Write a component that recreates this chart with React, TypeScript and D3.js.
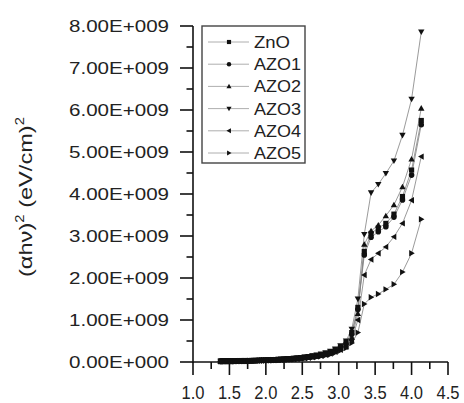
import React from "react";
import * as d3 from "d3";

// Photon energy (eV), from 300 nm to 900 nm in 10 nm steps
const energy = [
  4.133, 4.0, 3.875, 3.758, 3.647, 3.543, 3.444, 3.351, 3.263, 3.179,
  3.1, 3.024, 2.952, 2.884, 2.818, 2.756, 2.696, 2.638, 2.583, 2.531,
  2.48, 2.431, 2.385, 2.34, 2.296, 2.255, 2.214, 2.175, 2.138, 2.102,
  2.067, 2.033, 2.0, 1.968, 1.938, 1.908, 1.879, 1.851, 1.824, 1.797,
  1.771, 1.746, 1.722, 1.699, 1.676, 1.653, 1.632, 1.61, 1.59, 1.57,
  1.55, 1.531, 1.512, 1.494, 1.476, 1.459, 1.442, 1.425, 1.409, 1.393,
  1.378,
];

// (αhν)^2 in units of 1E+009
const zno = [
  5.75, 4.57, 3.94, 3.52, 3.3, 3.19, 3.06, 2.63, 1.3, 0.7,
  0.46, 0.36, 0.29, 0.24, 0.2, 0.175, 0.155, 0.14, 0.125, 0.112,
  0.1, 0.092, 0.085, 0.079, 0.073, 0.068, 0.064, 0.06, 0.056, 0.053,
  0.05, 0.047, 0.045, 0.043, 0.041, 0.039, 0.037, 0.035, 0.034, 0.033,
  0.031, 0.03, 0.029, 0.028, 0.027, 0.026, 0.025, 0.024, 0.023, 0.023,
  0.022, 0.021, 0.021, 0.02, 0.02, 0.019, 0.019, 0.018, 0.018, 0.017,
  0.017,
];
const azo1 = [
  5.65, 4.45, 3.86, 3.45, 3.22, 3.1, 2.97, 2.55, 1.25, 0.66,
  0.43, 0.34, 0.27, 0.22, 0.19, 0.165, 0.145, 0.13, 0.117, 0.105,
  0.095, 0.087, 0.08, 0.074, 0.069, 0.064, 0.06, 0.056, 0.053, 0.05,
  0.047, 0.045, 0.043, 0.041, 0.039, 0.037, 0.035, 0.034, 0.032, 0.031,
  0.03, 0.029, 0.028, 0.027, 0.026, 0.025, 0.024, 0.023, 0.022, 0.022,
  0.021, 0.02, 0.02, 0.019, 0.019, 0.018, 0.018, 0.017, 0.017, 0.016,
  0.016,
];
const azo2 = [
  6.04, 4.83, 4.17, 3.74, 3.48, 3.26, 3.12, 2.8, 1.15, 0.58,
  0.4, 0.32, 0.26, 0.21, 0.18, 0.16, 0.14, 0.125, 0.112, 0.1,
  0.091, 0.083, 0.077, 0.071, 0.066, 0.062, 0.058, 0.054, 0.051, 0.048,
  0.046, 0.043, 0.041, 0.039, 0.037, 0.036, 0.034, 0.033, 0.031, 0.03,
  0.029, 0.028, 0.027, 0.026, 0.025, 0.024, 0.023, 0.023, 0.022, 0.021,
  0.021, 0.02, 0.02, 0.019, 0.019, 0.018, 0.018, 0.017, 0.017, 0.016,
  0.016,
];
const azo3 = [
  7.86, 6.26, 5.4, 4.79, 4.49, 4.23, 4.03, 3.04, 1.5, 0.78,
  0.5, 0.39, 0.31, 0.26, 0.22, 0.19, 0.17, 0.15, 0.135, 0.12,
  0.11, 0.1, 0.092, 0.085, 0.079, 0.074, 0.069, 0.065, 0.061, 0.057,
  0.054, 0.051, 0.048, 0.046, 0.044, 0.042, 0.04, 0.038, 0.036, 0.035,
  0.033, 0.032, 0.031, 0.03, 0.029, 0.028, 0.027, 0.026, 0.025, 0.024,
  0.024, 0.023, 0.022, 0.022, 0.021, 0.021, 0.02, 0.02, 0.019, 0.019,
  0.018,
];
const azo4 = [
  4.89, 3.85, 3.3, 2.98, 2.74, 2.59, 2.44, 2.07, 1.0, 0.52,
  0.36, 0.29, 0.24, 0.2, 0.17, 0.15, 0.135, 0.12, 0.108, 0.097,
  0.088, 0.081, 0.075, 0.069, 0.064, 0.06, 0.056, 0.053, 0.05, 0.047,
  0.044, 0.042, 0.04, 0.038, 0.036, 0.034, 0.033, 0.031, 0.03, 0.029,
  0.028, 0.027, 0.026, 0.025, 0.024, 0.023, 0.022, 0.022, 0.021, 0.02,
  0.02, 0.019, 0.019, 0.018, 0.018, 0.017, 0.017, 0.016, 0.016, 0.015,
  0.015,
];
const azo5 = [
  3.4, 2.59, 2.14, 1.85, 1.73, 1.62, 1.54, 1.38, 0.7, 0.45,
  0.33, 0.27, 0.22, 0.18, 0.155, 0.135, 0.12, 0.107, 0.096, 0.087,
  0.079, 0.072, 0.067, 0.062, 0.058, 0.054, 0.051, 0.048, 0.045, 0.043,
  0.04, 0.038, 0.036, 0.035, 0.033, 0.032, 0.03, 0.029, 0.028, 0.027,
  0.026, 0.025, 0.024, 0.023, 0.022, 0.022, 0.021, 0.02, 0.02, 0.019,
  0.019, 0.018, 0.018, 0.017, 0.017, 0.016, 0.016, 0.015, 0.015, 0.015,
  0.014,
];

const seriesNames = ["ZnO", "AZO1", "AZO2", "AZO3", "AZO4", "AZO5"];
const seriesValues = [zno, azo1, azo2, azo3, azo4, azo5];
const seriesMarkers = ["square", "circle", "up", "down", "left", "right"];

const xTicks = [1.0, 1.5, 2.0, 2.5, 3.0, 3.5, 4.0, 4.5];
const xTickLabels = ["1.0", "1.5", "2.0", "2.5", "3.0", "3.5", "4.0", "4.5"];
const xMinor = [1.25, 1.75, 2.25, 2.75, 3.25, 3.75, 4.25];
const yTicks = [0, 1, 2, 3, 4, 5, 6, 7, 8];
const yTickLabels = [
  "0.00E+000", "1.00E+009", "2.00E+009", "3.00E+009", "4.00E+009",
  "5.00E+009", "6.00E+009", "7.00E+009", "8.00E+009",
];
const yMinor = [0.5, 1.5, 2.5, 3.5, 4.5, 5.5, 6.5, 7.5];

const FONT = "'Liberation Sans', Arial, Helvetica, sans-serif";

function Marker({ kind, x, y, k = 1 }: { kind: string; x: number; y: number; k?: number }) {
  const s = 2.6 * k;
  if (kind === "square")
    return <rect x={x - s} y={y - s} width={2 * s} height={2 * s} fill="#111" />;
  if (kind === "circle") return <circle cx={x} cy={y} r={2.8 * k} fill="#111" />;
  const t = 3.2 * k;
  let pts = "";
  if (kind === "up") pts = `${x},${y - t} ${x - t},${y + t * 0.75} ${x + t},${y + t * 0.75}`;
  if (kind === "down") pts = `${x},${y + t} ${x - t},${y - t * 0.75} ${x + t},${y - t * 0.75}`;
  if (kind === "left") pts = `${x - t},${y} ${x + t * 0.75},${y - t} ${x + t * 0.75},${y + t}`;
  if (kind === "right") pts = `${x + t},${y} ${x - t * 0.75},${y - t} ${x - t * 0.75},${y + t}`;
  return <polygon points={pts} fill="#111" />;
}

export default function App() {
  const x = d3.scaleLinear().domain([1.0, 4.5]).range([193, 448]);
  const y = d3.scaleLinear().domain([0, 8]).range([362, 26]);
  const line = d3
    .line<number>()
    .x((_, i) => x(energy[i]))
    .y((d) => y(d));

  const legX = 202;
  const legY = 26;
  const rowY0 = 42;
  const rowStep = 22.2;

  return (
    <svg
      width={464}
      height={403}
      style={{ position: "absolute", left: 0, top: 0, background: "#fff" }}
      fontFamily={FONT}
    >
      <rect x={0} y={0} width={464} height={403} fill="#fff" />

      {/* series lines */}
      {seriesValues.map((vals, si) => (
        <path key={"l" + si} d={line(vals) || ""} fill="none" stroke="#808080" strokeWidth={0.8} />
      ))}
      {/* markers */}
      {seriesValues.map((vals, si) =>
        vals.map((v, i) => (
          <Marker key={`m${si}-${i}`} kind={seriesMarkers[si]} x={x(energy[i])} y={y(v)} />
        ))
      )}

      {/* axes */}
      <line x1={x(1.0)} x2={x(1.0)} y1={y(8)} y2={y(0) + 1} stroke="#111" strokeWidth={1.6} />
      <line x1={x(1.0)} x2={x(4.5)} y1={y(0)} y2={y(0)} stroke="#111" strokeWidth={1.6} />

      {yTicks.map((t, i) => (
        <g key={"yt" + i}>
          <line x1={x(1.0) - 13} x2={x(1.0)} y1={y(t)} y2={y(t)} stroke="#111" strokeWidth={1.6} />
          <text
            x={169}
            y={y(t) + 6}
            fontSize={16}
            textAnchor="end"
            fill="#222"
            textLength={100}
            lengthAdjust="spacingAndGlyphs"
          >
            {yTickLabels[i]}
          </text>
        </g>
      ))}
      {yMinor.map((t, i) => (
        <line key={"ym" + i} x1={x(1.0) - 6.5} x2={x(1.0)} y1={y(t)} y2={y(t)} stroke="#111" strokeWidth={1.6} />
      ))}

      {xTicks.map((t, i) => (
        <g key={"xt" + i}>
          <line x1={x(t)} x2={x(t)} y1={y(0)} y2={y(0) + 13} stroke="#111" strokeWidth={1.6} />
          <text
            x={x(t)}
            y={399}
            fontSize={19}
            textAnchor="middle"
            fill="#222"
            textLength={23}
            lengthAdjust="spacingAndGlyphs"
          >
            {xTickLabels[i]}
          </text>
        </g>
      ))}
      {xMinor.map((t, i) => (
        <line key={"xm" + i} x1={x(t)} x2={x(t)} y1={y(0)} y2={y(0) + 7} stroke="#111" strokeWidth={1.6} />
      ))}

      {/* y axis title */}
      <text
        transform={`translate(32, 197) rotate(-90)`}
        textAnchor="middle"
        fontSize={19}
        fill="#222"
        textLength={160}
        lengthAdjust="spacingAndGlyphs"
      >
        <tspan>(αhν)</tspan>
        <tspan fontSize={12} dy={-8}>2</tspan>
        <tspan dy={8}> (eV/cm)</tspan>
        <tspan fontSize={12} dy={-8}>2</tspan>
      </text>

      {/* legend */}
      <rect x={legX} y={legY} width={103} height={137} fill="#fff" stroke="#444" strokeWidth={1.4} />
      {seriesNames.map((name, i) => {
        const ry = rowY0 + i * rowStep;
        return (
          <g key={"lg" + i}>
            <line x1={208} x2={249} y1={ry} y2={ry} stroke="#999" strokeWidth={0.8} />
            <Marker kind={seriesMarkers[i]} x={229} y={ry} k={0.8} />
            <text
              x={254}
              y={ry + 6}
              fontSize={16.5}
              fill="#222"
              textLength={name.length === 3 ? 36 : 47}
              lengthAdjust="spacingAndGlyphs"
            >
              {name}
            </text>
          </g>
        );
      })}
    </svg>
  );
}
